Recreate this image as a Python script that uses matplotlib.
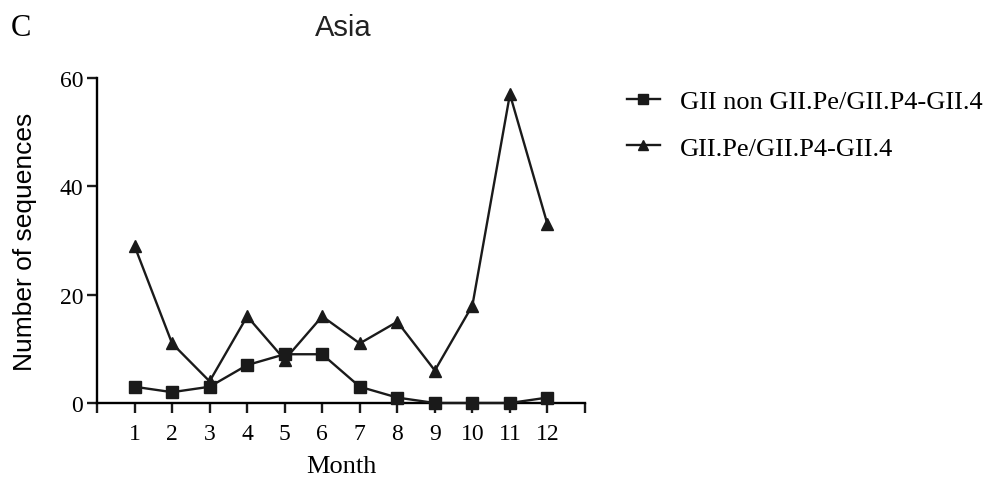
import matplotlib
matplotlib.use("Agg")
import matplotlib.pyplot as plt

months = [1, 2, 3, 4, 5, 6, 7, 8, 9, 10, 11, 12]
non_gii4 = [3, 2, 3, 7, 9, 9, 3, 1, 0, 0, 0, 1]
gii4 = [29, 11, 4, 16, 8, 16, 11, 15, 6, 18, 57, 33]
yticks = [0, 20, 40, 60]
labels = ["GII non GII.Pe/GII.P4-GII.4", "GII.Pe/GII.P4-GII.4"]

serif = "Liberation Serif"
sans = "Liberation Sans"

fig = plt.figure(figsize=(9.9, 4.85), dpi=100)
ax = fig.add_axes([97/990, 1-404/485, (585-97)/990, (404-79)/485])

l1, = ax.plot(months, non_gii4, color="#1a1a1a", lw=1.7, marker="s", ms=9, clip_on=False, zorder=3)
l2, = ax.plot(months, gii4, color="#1a1a1a", lw=1.7, marker="^", ms=9, clip_on=False, zorder=3)

ax.set_xlim(0, 13)
ax.set_ylim(0, 60)
ax.spines["top"].set_visible(False)
ax.spines["right"].set_visible(False)
for s in ("left", "bottom"):
    ax.spines[s].set_linewidth(1.7)
ax.set_xticks(range(0, 14))
ax.set_xticklabels([""] + [str(m) for m in months] + [""], fontfamily=serif, fontsize=17)
ax.set_yticks(yticks)
ax.set_yticklabels([str(v) for v in yticks], fontfamily=serif, fontsize=17)
ax.tick_params(axis="both", length=7, width=1.7, color="#1a1a1a")
ax.tick_params(axis="x", pad=7.5)
ax.tick_params(axis="y", pad=3)

ax.set_xlabel("Month", fontfamily=serif, fontsize=19, labelpad=8)
ax.set_ylabel("Number of sequences", fontfamily=sans, fontsize=19, labelpad=16)
fig.text(343/990, 1-28/485, "Asia", fontfamily=sans, fontsize=21, ha="center", va="center", color="#222222")
fig.text(11/990, 1-29/485, "C", fontfamily=serif, fontsize=22, ha="left", va="center")

leg = fig.legend([l1, l2], labels, loc="upper left", bbox_to_anchor=(627/990, 1-91/485),
                 borderaxespad=0, borderpad=0,
                 frameon=False, prop={"family": serif, "size": 19}, handlelength=1.25,
                 handletextpad=0.75, labelspacing=0.86, markerscale=0.75)

fig.savefig("out.png", dpi=100)
